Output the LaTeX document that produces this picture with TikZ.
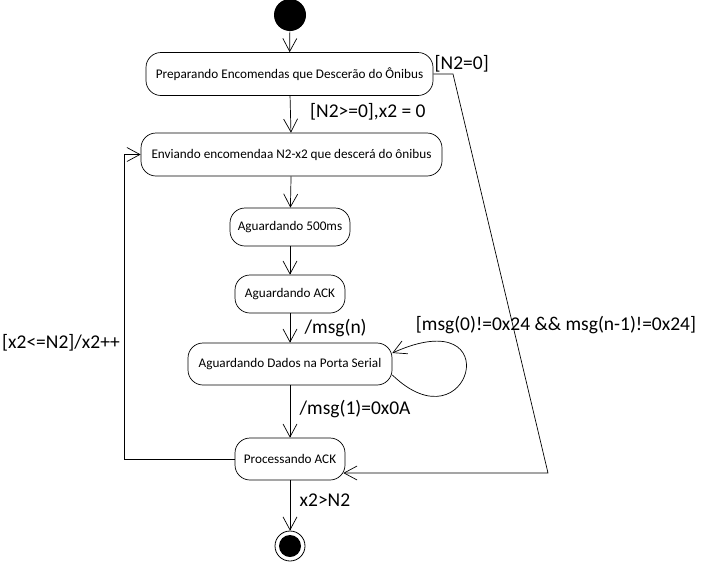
\documentclass[tikz,border=0pt]{standalone}
\usepackage{fontspec}
\setmainfont{Carlito}
\usetikzlibrary{arrows.meta}

\begin{document}
\begin{tikzpicture}[x=1pt,y=-1pt,auto,line width=0.7pt,>={Straight Barb[length=13pt,width=14pt]}]
            \useasboundingbox (0,0) rectangle (702,563);
            \begin{scope}[every node/.style={draw=black,rounded corners=15pt,minimum height=43pt,font=\fontsize{13.2}{15}\selectfont}]
                \node[minimum width=287pt] (prep) at (289.5,74) {Preparando Encomendas que Descerão do Ônibus};
                \node[minimum width=301pt] (env) at (291.5,154.5) {Enviando encomendaa N2-x2 que descerá do ônibus};
                \node[minimum width=120pt,minimum height=38pt] (w500) at (290,227) {Aguardando 500ms};
                \node[minimum width=110pt,minimum height=38pt] (ack) at (290,294) {Aguardando ACK};
                \node[minimum width=204pt,minimum height=42pt] (dados) at (290,364) {Aguardando Dados na Porta Serial};
                \node[minimum width=110pt,minimum height=42pt] (proc) at (290,459) {Processando ACK};
            \end{scope}
            \node[circle,fill=black,minimum size=32pt,inner sep=0pt] (ini) at (290,15) {};
            \node[circle,draw=black,thick,minimum size=30pt,inner sep=0pt] (fim) at (290,546) {};
            \node[circle,fill=black,minimum size=22pt,inner sep=0pt] at (fim) {};
            \coordinate (c1) at (453,74);
            \coordinate (c2) at (548,473);
            \begin{scope}[every node/.style={font=\fontsize{19.5}{22}\selectfont}]
                \draw[->] (ini) -- (prep);
                \draw[->] (prep) -- node[right=16pt,yshift=2pt]{[N2>=0],x2 = 0} (env);
                \draw[->] (env) -- (w500);
                \draw[->] (w500) -- (ack);
                \draw[->] (ack) -- node[right=11pt]{/msg(n)} (dados);
                \draw[->] (dados) -- node[right=6pt,yshift=2pt]{/msg(1)=0x0A} (proc);
                \draw[->] (proc) -- node[right=6pt,yshift=5pt]{x2>N2} (fim);
                \draw[->] ([yshift=-11pt]dados.east) .. controls (470,450) and (510,300) .. ([yshift=11pt]dados.east)
                    node at (556,325) {[msg(0)!=0x24 \&\& msg(n-1)!=0x24]};
                \draw[->] (proc.west) -| ([xshift=-16pt]env.west) -- (env.west);
                \node at (61,343) {[x2<=N2]/x2++};
                \draw[->] (prep.east) -- (c1) -- (c2) -- ([yshift=-14pt,xshift=-2pt]proc.east);
                \node[anchor=south west,inner sep=1pt] at (prep.east) {[N2=0]};
            \end{scope}
        \end{tikzpicture}
\end{document}
